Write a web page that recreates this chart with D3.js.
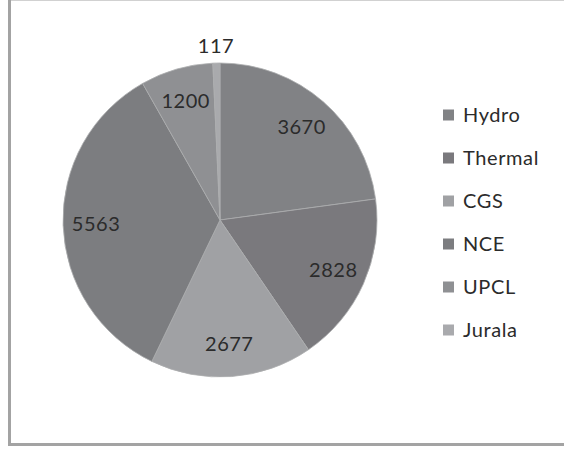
<!DOCTYPE html>
<html>
<head>
<meta charset="utf-8">
<script src="https://cdn.jsdelivr.net/npm/d3@7"></script>
<style>
  body { margin: 0; background: #fff; }
  svg { display: block; }
</style>
</head>
<body>
<svg id="chart"></svg>
<script>
// data
const categories = ['Hydro', 'Thermal', 'CGS', 'NCE', 'UPCL', 'Jurala'];
const values = [3670, 2828, 2677, 5563, 1200, 117];
const colors = ['#818285', '#7a797d', '#a0a1a4', '#7c7d80', '#8f9093', '#a9aaad'];

const width = 564;
const height = 450;
const cx = 220, cy = 220;
const radius = 157;

const svg = d3.select('#chart')
  .attr('width', width)
  .attr('height', height);

// chart frame (right edge runs off the picture)
svg.append('rect')
  .attr('x', 9.5)
  .attr('y', -1)
  .attr('width', 600)
  .attr('height', 445.5)
  .attr('fill', 'none')
  .attr('stroke', '#a3a3a3')
  .attr('stroke-width', 3);

const color = d3.scaleOrdinal().domain(categories).range(colors);

const pie = d3.pie().sort(null).value(d => d.value);
const data = categories.map((c, i) => ({ name: c, value: values[i] }));
const pieData = pie(data);

const arc = d3.arc().innerRadius(0).outerRadius(radius);
const labelArc = d3.arc().innerRadius(124).outerRadius(124);
const outerArc = d3.arc().innerRadius(174).outerRadius(174);

const g = svg.append('g').attr('transform', `translate(${cx},${cy})`);

g.selectAll('path')
  .data(pieData)
  .enter()
  .append('path')
  .attr('d', arc)
  .attr('fill', d => color(d.data.name))
  .attr('stroke', '#acadaf')
  .attr('stroke-width', 0.8);

// value labels, tiny slices go outside
g.selectAll('text.val')
  .data(pieData)
  .enter()
  .append('text')
  .attr('class', 'val')
  .attr('transform', d => {
    const small = d.endAngle - d.startAngle < 0.1;
    const [x, y] = (small ? outerArc : labelArc).centroid(d);
    return `translate(${x},${y})`;
  })
  .attr('text-anchor', 'middle')
  .attr('dy', '0.35em')
  .style('font-family', 'Lato, sans-serif')
  .style('font-size', '20px')
  .style('letter-spacing', '0.5px')
  .style('fill', '#2b2b2b')
  .text(d => d.data.value);

// legend
const legend = svg.append('g').attr('transform', 'translate(443, 115)');

legend.selectAll('g')
  .data(categories)
  .enter()
  .append('g')
  .attr('transform', (_, i) => `translate(0, ${i * 43})`)
  .each(function (d) {
    const row = d3.select(this);
    row.append('rect')
      .attr('x', 0)
      .attr('y', -5.5)
      .attr('width', 11)
      .attr('height', 11)
      .attr('fill', color(d));
    row.append('text')
      .attr('x', 20)
      .attr('dy', '0.36em')
      .style('font-family', 'Lato, sans-serif')
      .style('font-size', '20px')
      .style('letter-spacing', '0.6px')
      .style('fill', '#2b2b2b')
      .text(d);
  });
</script>
</body>
</html>
